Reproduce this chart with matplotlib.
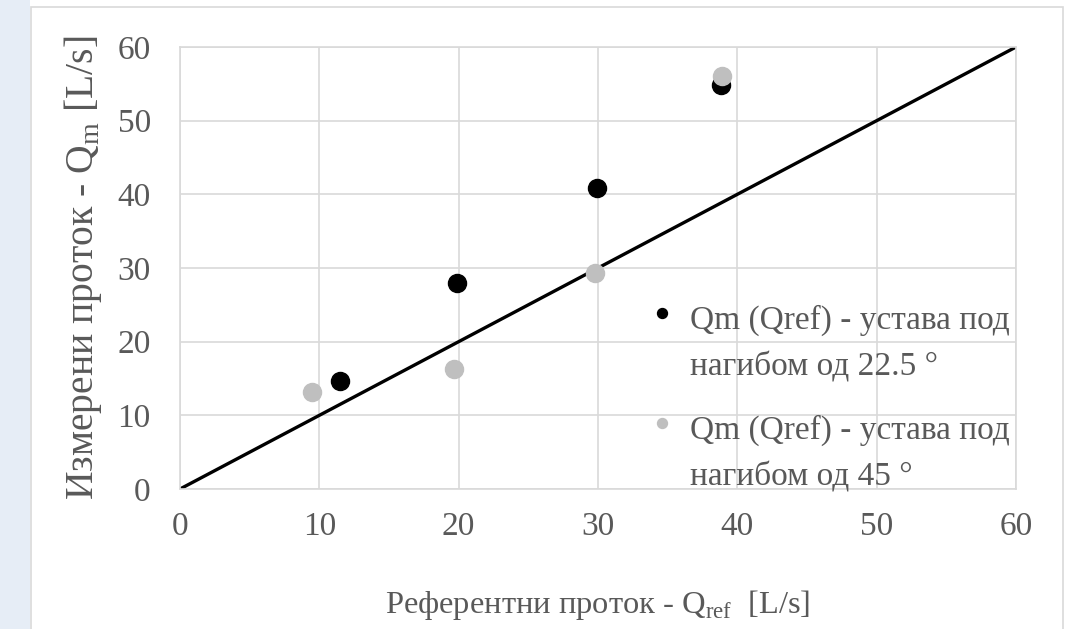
import matplotlib
matplotlib.use("Agg")
import numpy as np
import matplotlib.pyplot as plt
from matplotlib.patches import Rectangle
from matplotlib.legend_handler import HandlerLine2D

# measured vs reference flow, two mounting angles
q_ref_225 = [11.5, 19.9, 29.9, 38.8]
q_m_225 = [14.6, 27.9, 40.9, 54.8]
q_ref_45 = [9.5, 19.7, 29.8, 38.9]
q_m_45 = [13.1, 16.3, 29.3, 56.1]
ideal = [0, 60]

label_225 = "Qm (Qref) - устава под\nнагибом од 22.5 °"
label_45 = "Qm (Qref) - устава под\nнагибом од 45 °"
ticks = [0, 10, 20, 30, 40, 50, 60]

txt = "#595959"
grid = "#d9d9d9"
plt.rcParams["font.family"] = ["Liberation Serif", "DejaVu Serif"]
plt.rcParams["mathtext.fontset"] = "custom"
plt.rcParams["mathtext.rm"] = "Liberation Serif"
plt.rcParams["font.size"] = 24


class TopMarker(HandlerLine2D):
    # put the legend marker next to the first text line
    def __init__(self, shift, **kw):
        super().__init__(**kw)
        self.shift = shift

    def create_artists(self, *args, **kw):
        arts = super().create_artists(*args, **kw)
        for a in arts:
            a.set_ydata(np.asarray(a.get_ydata()) + self.shift)
        return arts


fig = plt.figure(figsize=(10.71, 6.29), dpi=100)
W, H = 1071, 629

# pale strip on the left and the chart frame
fig.patches.append(Rectangle((0, 0), 30 / W, 1, transform=fig.transFigure,
                             facecolor="#e6edf6", edgecolor="none", zorder=-10))
fig.patches.append(Rectangle((31 / W, -0.01), 1032 / W, 1 - 7 / H + 0.01,
                             transform=fig.transFigure, facecolor="white",
                             edgecolor="#d9d9d9", lw=1.2, zorder=-10))

ax = fig.add_axes([180 / W, 1 - 489 / H, 836 / W, 442 / H])
ax.set_xlim(0, 60)
ax.set_ylim(0, 60)
ax.set_xticks(ticks)
ax.set_yticks(ticks)
ax.grid(True, color=grid, lw=1.2)
ax.set_axisbelow(True)
for s in ax.spines.values():
    s.set_color(grid)
    s.set_linewidth(1.2)
ax.tick_params(length=0, colors=txt, labelsize=24)
ax.tick_params(axis="x", pad=16)
ax.tick_params(axis="y", pad=21)

ax.plot(ideal, ideal, color="black", lw=2.4, zorder=2)
l1, = ax.plot(q_ref_225, q_m_225, "o", color="black", ms=13, label=label_225, zorder=3)
l2, = ax.plot(q_ref_45, q_m_45, "o", color="#bfbfbf", ms=13, label=label_45, zorder=3)

ax.set_ylabel("Измерени проток - Q$_\\mathrm{m}$ [L/s]", color=txt, fontsize=28.5,
              labelpad=10)
ax.set_xlabel("Референтни проток - Q$_\\mathrm{ref}$  [L/s]", color=txt,
              fontsize=23.4, labelpad=33)

hm = {l1: TopMarker(22), l2: TopMarker(22)}
leg = ax.legend(loc="upper left", bbox_to_anchor=(615 / W, 1 - 275 / H),
                bbox_transform=fig.transFigure, frameon=False, numpoints=1,
                markerscale=0.55, handlelength=1.0, handletextpad=0.35,
                labelspacing=0.95, fontsize=24, handler_map=hm)
for t in leg.get_texts():
    t.set_color(txt)
    t.set_linespacing(1.65)

fig.savefig("out.png", dpi=100)
